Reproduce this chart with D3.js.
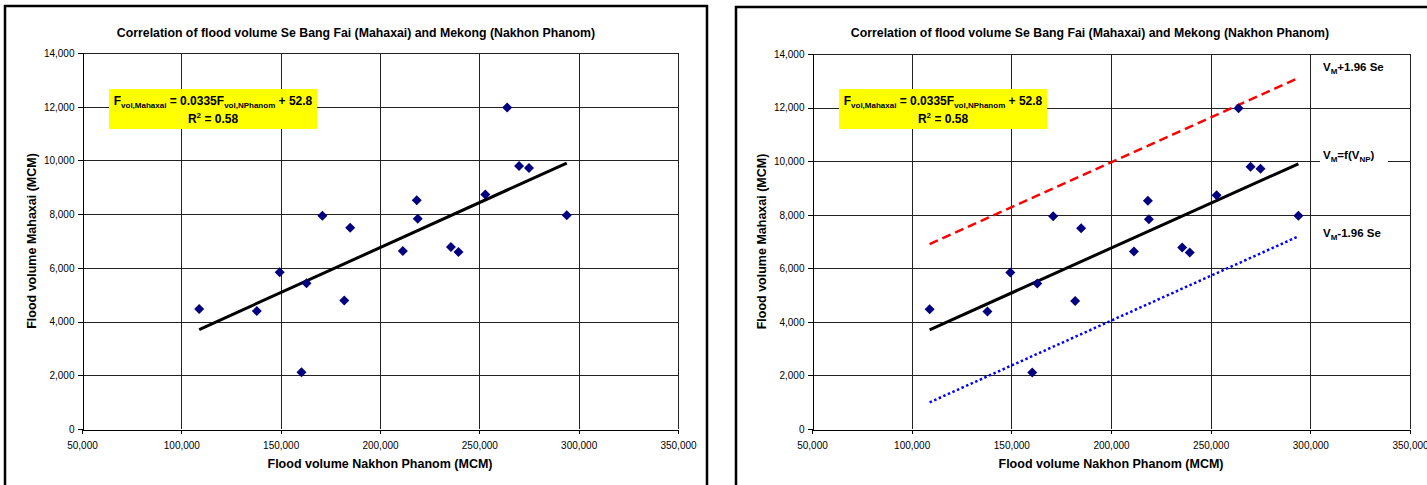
<!DOCTYPE html>
<html>
<head>
<meta charset="utf-8">
<script src="https://cdn.jsdelivr.net/npm/d3@7"></script>
<style>
  html, body { margin: 0; padding: 0; background: #fff; }
  svg { display: block; font-family: "Liberation Sans", Arial, sans-serif; }
</style>
</head>
<body>
<svg id="chart" width="1427" height="485"></svg>
<script>
// Flood volumes (MCM): Mekong at Nakhon Phanom vs Se Bang Fai at Mahaxai
const floodNakhonPhanom = [109000, 138000, 149500, 160500, 163000, 171000, 182000, 185000, 211500,
                           218500, 219000, 235700, 239500, 253000, 264000, 270000, 275000, 294000];
const floodMahaxai      = [4470, 4390, 5840, 2110, 5430, 7940, 4780, 7490, 6630,
                           8520, 7830, 6780, 6590, 8730, 11970, 9790, 9720, 7960];

// Linear fit F_Mahaxai = a * F_NPhanom + b and the 1.96 Se band offsets
const fitSlope = 0.0335;
const fitIntercept = 52.8;
const bandOffsets = [3200, -2710];   // upper (+1.96 Se), lower (-1.96 Se)

const xTicks = [50000, 100000, 150000, 200000, 250000, 300000, 350000];
const yTicks = [0, 2000, 4000, 6000, 8000, 10000, 12000, 14000];

const titleText = "Correlation of flood volume Se Bang Fai (Mahaxai) and Mekong (Nakhon Phanom)";
const xTitle = "Flood volume Nakhon Phanom (MCM)";
const yTitle = "Flood volume Mahaxai (MCM)";

const fmt = d3.format(",");
const svg = d3.select("#chart");

const panels = [
  { frame: { x: 5, y: 6, w: 702 }, plot: { left: 82, right: 678, top: 53, bottom: 429 }, bands: false },
  { frame: { x: 736, y: 7, w: 708 }, plot: { left: 812, right: 1410, top: 54, bottom: 429 }, bands: true }
];

function drawPanel(p) {
  const g = svg.append("g");
  const { left, right, top, bottom } = p.plot;

  const x = d3.scaleLinear().domain([xTicks[0], xTicks[xTicks.length - 1]]).range([left, right]);
  const y = d3.scaleLinear().domain([yTicks[0], yTicks[yTicks.length - 1]]).range([bottom, top]);

  // chart frame
  g.append("rect")
    .attr("x", p.frame.x).attr("y", p.frame.y)
    .attr("width", p.frame.w).attr("height", 520)
    .attr("fill", "#fff").attr("stroke", "#000").attr("stroke-width", 2.5);

  // title
  g.append("text")
    .attr("x", p.frame.x + p.frame.w / 2).attr("y", 36.5)
    .attr("text-anchor", "middle")
    .attr("font-size", 12.3).attr("font-weight", "bold")
    .text(titleText);

  // gridlines
  const grid = g.append("g").attr("stroke", "#222").attr("stroke-width", 1).attr("shape-rendering", "crispEdges");
  grid.selectAll(".gx").data(xTicks.slice(1)).join("line")
    .attr("x1", d => Math.round(x(d)) + 0.5).attr("x2", d => Math.round(x(d)) + 0.5)
    .attr("y1", top).attr("y2", bottom);
  grid.selectAll(".gy").data(yTicks.slice(1)).join("line")
    .attr("x1", left).attr("x2", right)
    .attr("y1", d => Math.round(y(d)) + 0.5).attr("y2", d => Math.round(y(d)) + 0.5);

  // axes
  const xAxis = d3.axisBottom(x).tickValues(xTicks).tickFormat(fmt).tickSize(4).tickPadding(8);
  const yAxis = d3.axisLeft(y).tickValues(yTicks).tickFormat(fmt).tickSize(5).tickPadding(3);
  const gx = g.append("g").attr("transform", `translate(0,${Math.round(y(0)) + 0.5})`).call(xAxis);
  const gy = g.append("g").attr("transform", `translate(${Math.round(x(xTicks[0])) + 0.5},0)`).call(yAxis);
  [gx, gy].forEach(a => {
    a.select(".domain").attr("stroke", "#000").attr("shape-rendering", "crispEdges");
    a.selectAll(".tick line").attr("stroke", "#000").attr("shape-rendering", "crispEdges");
    a.selectAll(".tick text").attr("font-size", 10).attr("fill", "#000")
      .attr("font-family", "'Liberation Sans', Arial, sans-serif");
  });
  gx.selectAll(".tick text").attr("dy", "0.71em");
  gy.selectAll(".tick text").attr("dy", "0.34em");

  // axis titles
  g.append("text")
    .attr("x", (left + right) / 2).attr("y", 467.5)
    .attr("text-anchor", "middle").attr("font-size", 12.5).attr("font-weight", "bold")
    .text(xTitle);
  g.append("text")
    .attr("transform", `translate(${left - 46},${(top + bottom) / 2}) rotate(-90)`)
    .attr("text-anchor", "middle").attr("font-size", 12.5).attr("font-weight", "bold")
    .text(yTitle);

  // regression and band lines
  const [xMin, xMax] = d3.extent(floodNakhonPhanom);
  const line = d3.line().x(d => x(d[0])).y(d => y(d[1]));
  const fitAt = (v, off) => [v, fitSlope * v + fitIntercept + off];

  if (p.bands) {
    g.append("path")
      .attr("d", line([fitAt(xMin, bandOffsets[0]), fitAt(xMax, bandOffsets[0])]))
      .attr("stroke", "#ff0000").attr("stroke-width", 2.5).attr("fill", "none")
      .attr("stroke-dasharray", "9,5");
    g.append("path")
      .attr("d", line([fitAt(xMin, bandOffsets[1]), fitAt(xMax, bandOffsets[1])]))
      .attr("stroke", "#0000ff").attr("stroke-width", 2.5).attr("fill", "none")
      .attr("stroke-dasharray", "2.5,2.5");
  }

  g.append("path")
    .attr("d", line([fitAt(xMin, 0), fitAt(xMax, 0)]))
    .attr("stroke", "#000").attr("stroke-width", 3).attr("fill", "none");

  // data markers
  const diamond = d3.symbol().type(d3.symbolSquare).size(50);
  g.append("g").selectAll("path")
    .data(floodNakhonPhanom.map((v, i) => [v, floodMahaxai[i]]))
    .join("path")
    .attr("d", diamond)
    .attr("transform", d => `translate(${x(d[0])},${y(d[1])}) rotate(45)`)
    .attr("fill", "#000080");

  // equation box
  const bx = left + 27, by = 89, bw = 208, bh = 40;
  g.append("rect").attr("x", bx).attr("y", by).attr("width", bw).attr("height", bh).attr("fill", "#ffff00");
  const eq = g.append("text")
    .attr("x", bx + bw / 2).attr("y", 104.5)
    .attr("text-anchor", "middle").attr("font-size", 12).attr("font-weight", "bold");
  eq.append("tspan").text("F");
  eq.append("tspan").attr("font-size", 8).attr("dy", 3).text("vol,Mahaxai");
  eq.append("tspan").attr("dy", -3).text(" = " + fitSlope + "F");
  eq.append("tspan").attr("font-size", 8).attr("dy", 3).text("vol,NPhanom");
  eq.append("tspan").attr("dy", -3).text(" + " + fitIntercept);
  const r2 = g.append("text")
    .attr("x", bx + bw / 2).attr("y", 123)
    .attr("text-anchor", "middle").attr("font-size", 12).attr("font-weight", "bold");
  r2.append("tspan").text("R");
  r2.append("tspan").attr("font-size", 8).attr("dy", -5).text("2");
  r2.append("tspan").attr("dy", 5).text(" = 0.58");

  if (p.bands) {
    const lx = right - 87;
    const lbl = (yy, parts) => {
      const t = g.append("text").attr("x", lx).attr("y", yy).attr("font-size", 11.5).attr("font-weight", "bold");
      let shifted = false;
      parts.forEach(([s, sub]) => {
        const ts = t.append("tspan").text(s);
        if (sub && !shifted) { ts.attr("font-size", 8).attr("dy", 3); shifted = true; }
        else if (!sub && shifted) { ts.attr("dy", -3); shifted = false; }
        else if (sub) ts.attr("font-size", 8);
      });
      return t;
    };
    lbl(71, [["V"], ["M", true], ["+1.96 Se"]]);
    g.append("rect").attr("x", lx - 3).attr("y", 150).attr("width", 68).attr("height", 14).attr("fill", "#fff");
    lbl(159, [["V"], ["M", true], ["=f(V"], ["NP", true], [")"]]);
    lbl(237, [["V"], ["M", true], ["-1.96 Se"]]);
  }
}

panels.forEach(drawPanel);
</script>
</body>
</html>
